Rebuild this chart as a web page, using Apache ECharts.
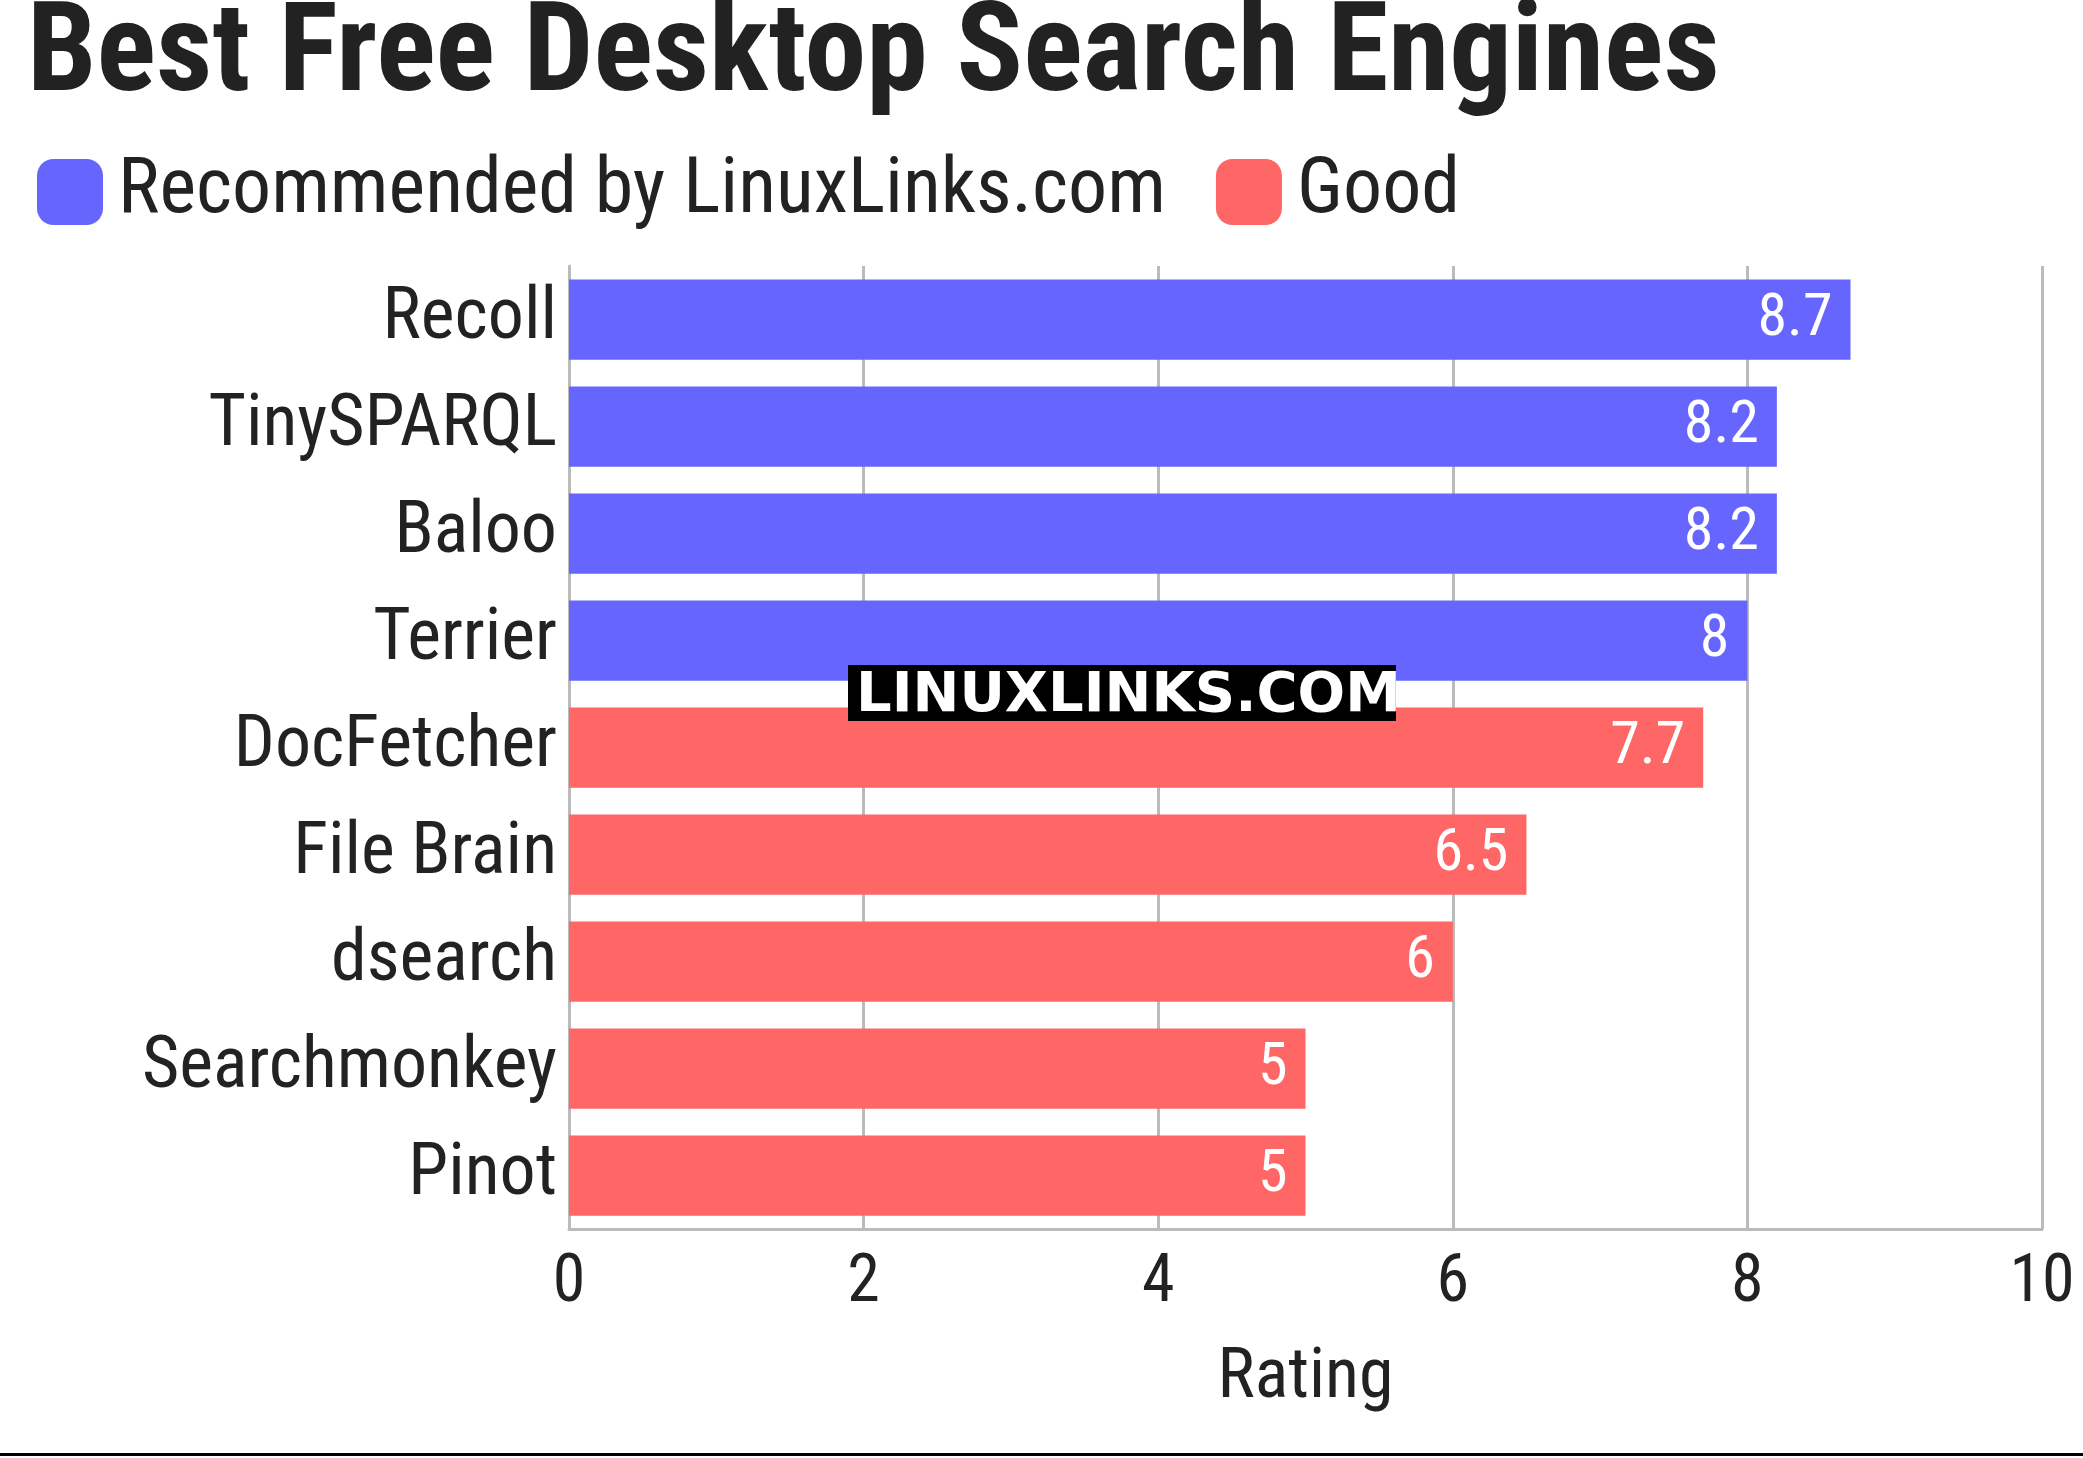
<!DOCTYPE html>
<html><head><meta charset="utf-8">
<script src="https://cdn.jsdelivr.net/npm/echarts@6/dist/echarts.min.js"></script>
<style>html,body{margin:0;padding:0;background:#fff}#c{width:2083px;height:1458px}</style>
</head><body><div id="c"></div>
<script>
const categories=["Recoll","TinySPARQL","Baloo","Terrier","DocFetcher","File Brain","dsearch","Searchmonkey","Pinot"];
const recommended=[8.7,8.2,8.2,8,null,null,null,null,null];
const good=[null,null,null,null,7.7,6.5,6,5,5];
const xTicks=[0,2,4,6,8,10];
const F='"Liberation Sans Narrow","Roboto Condensed",Roboto,sans-serif';
const chart=echarts.init(document.getElementById('c'));
const lbl={show:true,position:'insideRight',color:'#fff',fontSize:60,fontFamily:F,distance:18};
chart.setOption({
 animation:false,
 title:{text:'Best Free Desktop Search Engines',left:22,top:-8,textStyle:{fontSize:124,fontWeight:'bold',fontFamily:F,color:'#222'}},
 legend:{left:32,top:148,itemWidth:66,itemHeight:66,itemGap:50,textStyle:{fontSize:78,fontFamily:F,color:'#222',padding:[0,0,0,10]},data:['Recommended by LinuxLinks.com','Good']},
 grid:{left:569,right:41,top:266,bottom:229},
 xAxis:{type:'value',min:0,max:10,interval:2,name:'Rating',nameLocation:'middle',nameGap:115,nameTextStyle:{fontSize:70,fontFamily:F,color:'#222'},
  axisLabel:{fontSize:66,fontFamily:F,color:'#222',margin:22,formatter:v=>xTicks.includes(v)?String(v):''},
  splitLine:{show:true,lineStyle:{color:'#bbb',width:3}},axisLine:{show:true,lineStyle:{color:'#bbb',width:3}},axisTick:{show:false}},
 yAxis:{type:'category',inverse:true,data:categories,axisLabel:{fontSize:72,fontFamily:F,color:'#222',margin:12},
  axisLine:{show:true,lineStyle:{color:'#bbb',width:3}},axisTick:{show:false}},
 series:[
  {name:'Recommended by LinuxLinks.com',type:'bar',stack:'a',data:recommended,barWidth:'75%',itemStyle:{color:'#6666ff'},label:lbl},
  {name:'Good',type:'bar',stack:'a',data:good,barWidth:'75%',itemStyle:{color:'#ff6666'},label:lbl}
 ],
 graphic:[
  {type:'rect',left:848,top:665,shape:{width:548,height:56},style:{fill:'#000'},z:100},
  {type:'text',left:856,top:668,style:{text:'LINUXLINKS.COM',fill:'#fff',font:'bold 56px "DejaVu Sans",sans-serif'},z:101},
  {type:'rect',left:0,top:1453,shape:{width:2083,height:3},style:{fill:'#000'},z:100}
 ]
});
</script></body></html>
